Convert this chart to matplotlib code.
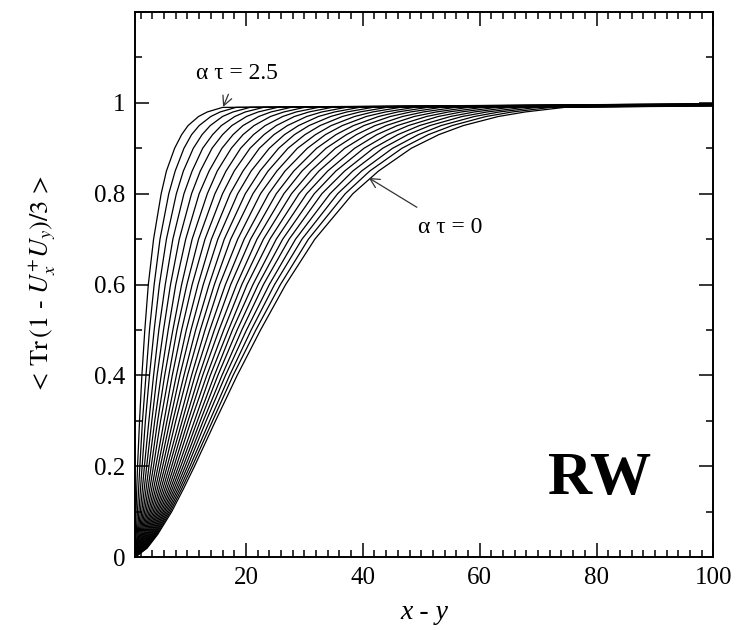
import matplotlib
matplotlib.use("Agg")
import matplotlib.pyplot as plt
from matplotlib.ticker import MultipleLocator

plt.rcParams['font.family'] = ['Liberation Serif', 'DejaVu Serif']
plt.rcParams['mathtext.fontset'] = 'stix'

# evolution times, one curve each
alpha_tau = [0.0, 0.1, 0.2, 0.3, 0.4, 0.5, 0.6, 0.7, 0.8, 0.9, 1.0, 1.1, 1.2,
             1.3, 1.4, 1.5, 1.6, 1.7, 1.8, 1.9, 2.0, 2.1, 2.2, 2.3, 2.4, 2.5]

# correlator levels at which the separation x - y is tabulated
levels = [0.02, 0.05, 0.1, 0.15, 0.2, 0.3, 0.4, 0.5, 0.6, 0.7, 0.8, 0.85,
          0.9, 0.93, 0.95, 0.97, 0.98, 0.99]

# x - y reached at each level, one row per alpha*tau (0 -> 2.5)
separation = [
    [3.10, 4.90, 7.30, 9.30, 11.20, 14.8, 18.5, 22.5, 26.8, 31.8, 38.3, 42.7, 48.3, 53.0, 57.2, 63.2, 67.8, 74.5],
    [3.02, 4.75, 7.06, 8.98, 10.81, 14.3, 17.8, 21.7, 25.9, 30.7, 37.0, 41.2, 46.7, 51.2, 55.3, 61.1, 65.6, 72.2],
    [2.93, 4.59, 6.81, 8.66, 10.42, 13.8, 17.2, 20.9, 24.9, 29.6, 35.7, 39.8, 45.1, 49.5, 53.4, 59.1, 63.4, 69.8],
    [2.85, 4.44, 6.57, 8.34, 10.03, 13.2, 16.5, 20.1, 24.0, 28.5, 34.4, 38.3, 43.4, 47.7, 51.5, 57.0, 61.3, 67.5],
    [2.77, 4.29, 6.32, 8.02, 9.64, 12.7, 15.9, 19.3, 23.0, 27.4, 33.0, 36.9, 41.8, 46.0, 49.7, 55.0, 59.1, 65.1],
    [2.69, 4.14, 6.08, 7.70, 9.25, 12.2, 15.2, 18.5, 22.1, 26.3, 31.7, 35.4, 40.2, 44.2, 47.8, 52.9, 56.9, 62.8],
    [2.60, 3.98, 5.84, 7.38, 8.86, 11.7, 14.6, 17.7, 21.2, 25.2, 30.4, 34.0, 38.6, 42.4, 45.9, 50.9, 54.7, 60.5],
    [2.52, 3.83, 5.59, 7.07, 8.47, 11.2, 13.9, 17.0, 20.2, 24.1, 29.1, 32.5, 36.9, 40.7, 44.0, 48.8, 52.6, 58.1],
    [2.44, 3.68, 5.35, 6.75, 8.08, 10.6, 13.3, 16.2, 19.3, 23.0, 27.8, 31.1, 35.3, 38.9, 42.1, 46.8, 50.4, 55.8],
    [2.35, 3.52, 5.10, 6.43, 7.69, 10.1, 12.6, 15.4, 18.4, 21.9, 26.5, 29.6, 33.7, 37.2, 40.2, 44.7, 48.2, 53.4],
    [2.27, 3.37, 4.86, 6.11, 7.30, 9.6, 12.0, 14.6, 17.4, 20.8, 25.2, 28.2, 32.1, 35.4, 38.4, 42.7, 46.0, 51.1],
    [2.19, 3.22, 4.62, 5.79, 6.91, 9.1, 11.3, 13.8, 16.5, 19.7, 23.9, 26.7, 30.5, 33.6, 36.5, 40.6, 43.9, 48.8],
    [2.11, 3.07, 4.37, 5.47, 6.52, 8.6, 10.7, 13.0, 15.5, 18.6, 22.5, 25.3, 28.8, 31.9, 34.6, 38.6, 41.7, 46.4],
    [2.02, 2.91, 4.13, 5.15, 6.14, 8.0, 10.0, 12.2, 14.6, 17.4, 21.2, 23.8, 27.2, 30.1, 32.7, 36.5, 39.5, 44.1],
    [1.94, 2.76, 3.88, 4.83, 5.75, 7.5, 9.4, 11.4, 13.7, 16.3, 19.9, 22.4, 25.6, 28.3, 30.8, 34.5, 37.3, 41.7],
    [1.86, 2.61, 3.64, 4.51, 5.36, 7.0, 8.7, 10.6, 12.7, 15.2, 18.6, 20.9, 24.0, 26.6, 29.0, 32.4, 35.2, 39.4],
    [1.78, 2.46, 3.40, 4.19, 4.97, 6.5, 8.1, 9.8, 11.8, 14.1, 17.3, 19.5, 22.3, 24.8, 27.1, 30.4, 33.0, 37.1],
    [1.69, 2.30, 3.15, 3.87, 4.58, 6.0, 7.4, 9.0, 10.8, 13.0, 16.0, 18.0, 20.7, 23.1, 25.2, 28.3, 30.8, 34.7],
    [1.61, 2.15, 2.91, 3.55, 4.19, 5.4, 6.8, 8.2, 9.9, 11.9, 14.7, 16.6, 19.1, 21.3, 23.3, 26.3, 28.6, 32.4],
    [1.53, 2.00, 2.66, 3.24, 3.80, 4.9, 6.1, 7.5, 9.0, 10.8, 13.4, 15.1, 17.5, 19.5, 21.4, 24.2, 26.5, 30.0],
    [1.44, 1.84, 2.42, 2.92, 3.41, 4.4, 5.5, 6.7, 8.0, 9.7, 12.0, 13.7, 15.9, 17.8, 19.5, 22.2, 24.3, 27.7],
    [1.36, 1.69, 2.18, 2.60, 3.02, 3.9, 4.8, 5.9, 7.1, 8.6, 10.7, 12.2, 14.2, 16.0, 17.6, 20.1, 22.1, 25.4],
    [1.28, 1.54, 1.93, 2.28, 2.63, 3.4, 4.2, 5.1, 6.2, 7.5, 9.4, 10.8, 12.6, 14.3, 15.8, 18.1, 19.9, 23.0],
    [1.20, 1.39, 1.69, 1.96, 2.24, 2.8, 3.5, 4.3, 5.2, 6.4, 8.1, 9.3, 11.0, 12.5, 13.9, 16.0, 17.8, 20.7],
    [1.11, 1.23, 1.44, 1.64, 1.85, 2.3, 2.9, 3.5, 4.3, 5.3, 6.8, 7.9, 9.4, 10.7, 12.0, 14.0, 15.6, 18.3],
    [1.03, 1.08, 1.20, 1.32, 1.46, 1.8, 2.2, 2.7, 3.3, 4.2, 5.5, 6.4, 7.8, 9.0, 10.1, 11.9, 13.4, 16.0],
]

# correlator value at the largest separation
plateau = [0.994, 0.995, 0.993, 0.996, 0.994, 0.995, 0.997, 0.994, 0.996, 0.995,
           0.997, 0.995, 0.996, 0.994, 0.997, 0.996, 0.995, 0.997, 0.996, 0.998,
           0.996, 0.997, 0.998, 0.996, 0.997, 0.998]

x_start, x_end = 1.0, 100.0

fig = plt.figure(figsize=(7.37, 6.31), dpi=100)
ax = fig.add_axes([0.183, 0.117, 0.785, 0.864])

for row, end in zip(separation, plateau):
    xs = [x_start] + row + [x_end]
    ys = [0.0] + levels + [end]
    ax.plot(xs, ys, color='black', lw=0.9)

ax.set_xlim(x_start, x_end)
ax.set_ylim(0, 1.2)
ax.set_xticks([20, 40, 60, 80, 100])
ax.set_xticks(list(range(2, 100, 2)), minor=True)
ax.set_yticks([0, 0.2, 0.4, 0.6, 0.8, 1.0, 1.2])
ax.set_yticklabels(['0', '0.2', '0.4', '0.6', '0.8', '1', ''])
ax.yaxis.set_minor_locator(MultipleLocator(0.1))
ax.tick_params(which='major', direction='in', top=True, right=True,
               bottom=True, left=True, length=10, width=1.1, labelsize=18, pad=7)
ax.tick_params(which='minor', direction='in', top=True, right=True,
               bottom=True, left=True, length=5, width=1.1)
for s in ax.spines.values():
    s.set_linewidth(1.4)

ax.set_xlabel('x - y', fontsize=20, style='italic', labelpad=8)
ax.set_ylabel(r'$<\,\mathrm{Tr}\,(1\ \text{-}\ U_x^{+}U_y)/3\,>$', fontsize=19, labelpad=26)

ax.annotate('\u03b1 \u03c4 = 2.5', xy=(16.1, 0.991), xytext=(18.5, 1.065),
            ha='center', va='center', fontsize=17,
            arrowprops=dict(arrowstyle='->', color='#333333', lw=0.9, shrinkA=6, shrinkB=0))
ax.annotate('\u03b1 \u03c4 = 0', xy=(41.0, 0.835), xytext=(55.0, 0.725),
            ha='center', va='center', fontsize=17,
            arrowprops=dict(arrowstyle='->', color='#333333', lw=0.9, shrinkA=10, shrinkB=0))

ax.text(0.803, 0.143, 'RW', transform=ax.transAxes, fontsize=44, fontweight='bold',
        ha='center', va='center')

fig.savefig('out.png', dpi=100)
